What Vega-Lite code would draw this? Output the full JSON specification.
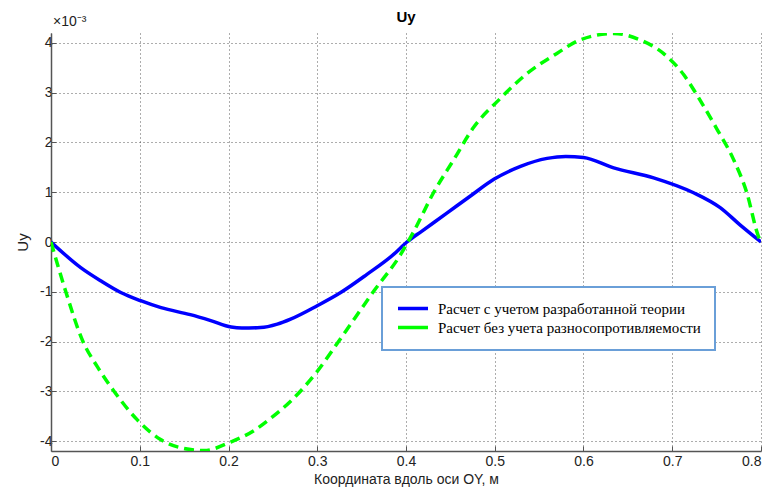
{
  "$schema": "https://vega.github.io/schema/vega-lite/v6.json",
  "width": 710,
  "height": 418,
  "autosize": {"type": "none"},
  "padding": {"left": 51, "top": 33, "right": 2, "bottom": 41},
  "background": "white",
  "title": {
    "text": "Uy",
    "font": "Liberation Sans",
    "fontSize": 15,
    "fontWeight": "bold",
    "color": "black",
    "frame": "group",
    "anchor": "middle",
    "offset": 0,
    "dy": 10
  },
  "config": {
    "view": {"stroke": null},
    "axis": {
      "labelFont": "Liberation Sans",
      "labelFontSize": 14,
      "labelColor": "#222",
      "titleFont": "Liberation Sans",
      "titleFontSize": 14,
      "titleFontWeight": "normal",
      "titleColor": "#222",
      "domainColor": "#555",
      "domainWidth": 1.5,
      "tickColor": "#555",
      "tickSize": -5,
      "tickWidth": 1,
      "gridColor": "#333",
      "gridDash": [1, 3],
      "gridWidth": 1,
      "gridOpacity": 0.8,
      "labelExpr": "replace(datum.label, '−', '-')"
    },
    "legend": {
      "labelFont": "Liberation Serif",
      "labelFontSize": 15,
      "labelColor": "black",
      "labelLimit": 500,
      "labelOffset": 8,
      "rowPadding": 3,
      "clipHeight": 15,
      "padding": 14,
      "fillColor": "white",
      "strokeColor": "#6A9FD8",
      "strokeWidth": 2,
      "symbolType": "stroke",
      "symbolSize": 900,
      "symbolStrokeWidth": 3.5
    }
  },
  "datasets": {
    "curves": [
      {"x": 0, "v": 0, "series": "Расчет с учетом разработанной теории"},
      {"x": 0.0335, "v": -0.515, "series": "Расчет с учетом разработанной теории"},
      {"x": 0.056, "v": -0.78, "series": "Расчет с учетом разработанной теории"},
      {"x": 0.0786, "v": -1.015, "series": "Расчет с учетом разработанной теории"},
      {"x": 0.101, "v": -1.18, "series": "Расчет с учетом разработанной теории"},
      {"x": 0.124, "v": -1.32, "series": "Расчет с учетом разработанной теории"},
      {"x": 0.157, "v": -1.46, "series": "Расчет с учетом разработанной теории"},
      {"x": 0.18, "v": -1.58, "series": "Расчет с учетом разработанной теории"},
      {"x": 0.203, "v": -1.71, "series": "Расчет с учетом разработанной теории"},
      {"x": 0.215, "v": -1.73, "series": "Расчет с учетом разработанной теории"},
      {"x": 0.236, "v": -1.72, "series": "Расчет с учетом разработанной теории"},
      {"x": 0.255, "v": -1.65, "series": "Расчет с учетом разработанной теории"},
      {"x": 0.27, "v": -1.55, "series": "Расчет с учетом разработанной теории"},
      {"x": 0.3, "v": -1.28, "series": "Расчет с учетом разработанной теории"},
      {"x": 0.326, "v": -1.02, "series": "Расчет с учетом разработанной теории"},
      {"x": 0.356, "v": -0.65, "series": "Расчет с учетом разработанной теории"},
      {"x": 0.386, "v": -0.25, "series": "Расчет с учетом разработанной теории"},
      {"x": 0.401, "v": 0.0, "series": "Расчет с учетом разработанной теории"},
      {"x": 0.418, "v": 0.22, "series": "Расчет с учетом разработанной теории"},
      {"x": 0.446, "v": 0.58, "series": "Расчет с учетом разработанной теории"},
      {"x": 0.473, "v": 0.93, "series": "Расчет с учетом разработанной теории"},
      {"x": 0.499, "v": 1.26, "series": "Расчет с учетом разработанной теории"},
      {"x": 0.529, "v": 1.52, "series": "Расчет с учетом разработанной теории"},
      {"x": 0.559, "v": 1.68, "series": "Расчет с учетом разработанной теории"},
      {"x": 0.58, "v": 1.72, "series": "Расчет с учетом разработанной теории"},
      {"x": 0.6, "v": 1.7, "series": "Расчет с учетом разработанной теории"},
      {"x": 0.634, "v": 1.49, "series": "Расчет с учетом разработанной теории"},
      {"x": 0.679, "v": 1.29, "series": "Расчет с учетом разработанной теории"},
      {"x": 0.724, "v": 0.99, "series": "Расчет с учетом разработанной теории"},
      {"x": 0.754, "v": 0.69, "series": "Расчет с учетом разработанной теории"},
      {"x": 0.776, "v": 0.35, "series": "Расчет с учетом разработанной теории"},
      {"x": 0.8, "v": 0, "series": "Расчет с учетом разработанной теории"},
      {"x": 0, "v": 0, "series": "Расчет без учета разносопротивляемости"},
      {"x": 0.0167, "v": -1.0, "series": "Расчет без учета разносопротивляемости"},
      {"x": 0.036, "v": -2.0, "series": "Расчет без учета разносопротивляемости"},
      {"x": 0.052, "v": -2.5, "series": "Расчет без учета разносопротивляемости"},
      {"x": 0.071, "v": -3.0, "series": "Расчет без учета разносопротивляемости"},
      {"x": 0.097, "v": -3.57, "series": "Расчет без учета разносопротивляемости"},
      {"x": 0.1235, "v": -3.97, "series": "Расчет без учета разносопротивляемости"},
      {"x": 0.15, "v": -4.15, "series": "Расчет без учета разносопротивляемости"},
      {"x": 0.1724, "v": -4.19, "series": "Расчет без учета разносопротивляемости"},
      {"x": 0.2024, "v": -4.02, "series": "Расчет без учета разносопротивляемости"},
      {"x": 0.2287, "v": -3.79, "series": "Расчет без учета разносопротивляемости"},
      {"x": 0.247, "v": -3.55, "series": "Расчет без учета разносопротивляемости"},
      {"x": 0.27, "v": -3.2, "series": "Расчет без учета разносопротивляемости"},
      {"x": 0.3, "v": -2.6, "series": "Расчет без учета разносопротивляемости"},
      {"x": 0.326, "v": -1.95, "series": "Расчет без учета разносопротивляемости"},
      {"x": 0.364, "v": -0.98, "series": "Расчет без учета разносопротивляемости"},
      {"x": 0.394, "v": -0.25, "series": "Расчет без учета разносопротивляемости"},
      {"x": 0.409, "v": 0.22, "series": "Расчет без учета разносопротивляемости"},
      {"x": 0.431, "v": 0.99, "series": "Расчет без учета разносопротивляемости"},
      {"x": 0.454, "v": 1.66, "series": "Расчет без учета разносопротивляемости"},
      {"x": 0.476, "v": 2.3, "series": "Расчет без учета разносопротивляемости"},
      {"x": 0.506, "v": 2.88, "series": "Расчет без учета разносопротивляемости"},
      {"x": 0.536, "v": 3.38, "series": "Расчет без учета разносопротивляемости"},
      {"x": 0.57, "v": 3.79, "series": "Расчет без учета разносопротивляемости"},
      {"x": 0.596, "v": 4.06, "series": "Расчет без учета разносопротивляемости"},
      {"x": 0.634, "v": 4.19, "series": "Расчет без учета разносопротивляемости"},
      {"x": 0.664, "v": 4.06, "series": "Расчет без учета разносопротивляемости"},
      {"x": 0.69, "v": 3.79, "series": "Расчет без учета разносопротивляемости"},
      {"x": 0.713, "v": 3.36, "series": "Расчет без учета разносопротивляемости"},
      {"x": 0.731, "v": 2.86, "series": "Расчет без учета разносопротивляемости"},
      {"x": 0.75, "v": 2.28, "series": "Расчет без учета разносопротивляемости"},
      {"x": 0.769, "v": 1.66, "series": "Расчет без учета разносопротивляемости"},
      {"x": 0.784, "v": 0.99, "series": "Расчет без учета разносопротивляемости"},
      {"x": 0.797, "v": 0.12, "series": "Расчет без учета разносопротивляемости"},
      {"x": 0.8, "v": 0, "series": "Расчет без учета разносопротивляемости"}
    ]
  },
  "layer": [
    {
      "data": {"name": "curves"},
      "transform": [{"filter": "datum.series === 'Расчет с учетом разработанной теории'"}],
      "mark": {"type": "line", "strokeWidth": 3.5, "clip": true, "interpolate": "monotone"},
      "encoding": {
        "x": {
          "field": "x",
          "type": "quantitative",
          "scale": {"domain": [0, 0.8], "nice": false, "zero": false},
          "axis": {
            "values": [0, 0.1, 0.2, 0.3, 0.4, 0.5, 0.6, 0.7, 0.8],
            "format": "~g",
            "title": "Координата вдоль оси OY, м",
            "titlePadding": 4,
            "labelPadding": 8
          }
        },
        "y": {
          "field": "v",
          "type": "quantitative",
          "scale": {"domain": [-4.2, 4.2], "nice": false, "zero": false},
          "axis": {
            "values": [-4, -3, -2, -1, 0, 1, 2, 3, 4],
            "title": "Uy",
            "titleFontSize": 15,
            "titlePadding": 9,
            "labelPadding": 4
          }
        },
        "color": {
          "field": "series",
          "type": "nominal",
          "sort": null,
          "scale": {
            "domain": ["Расчет с учетом разработанной теории", "Расчет без учета разносопротивляемости"],
            "range": ["#0000FF", "#00FF00"]
          },
          "legend": {
            "title": null,
            "orient": "none",
            "legendX": 331,
            "legendY": 254
          }
        }
      }
    },
    {
      "data": {"name": "curves"},
      "transform": [{"filter": "datum.series === 'Расчет без учета разносопротивляемости'"}],
      "mark": {"type": "line", "strokeWidth": 3.5, "clip": true, "interpolate": "monotone", "strokeDash": [10, 6]},
      "encoding": {
        "x": {"field": "x", "type": "quantitative"},
        "y": {"field": "v", "type": "quantitative"},
        "color": {"field": "series", "type": "nominal", "sort": null}
      }
    },
    {
      "data": {"values": [{"label": "×10⁻³"}]},
      "mark": {
        "type": "text",
        "align": "left",
        "baseline": "bottom",
        "dx": 2,
        "dy": -4,
        "font": "Liberation Sans",
        "fontSize": 14,
        "color": "#222"
      },
      "encoding": {
        "x": {"datum": 0, "type": "quantitative"},
        "y": {"datum": 4.2, "type": "quantitative"},
        "text": {"field": "label"}
      }
    }
  ]
}
